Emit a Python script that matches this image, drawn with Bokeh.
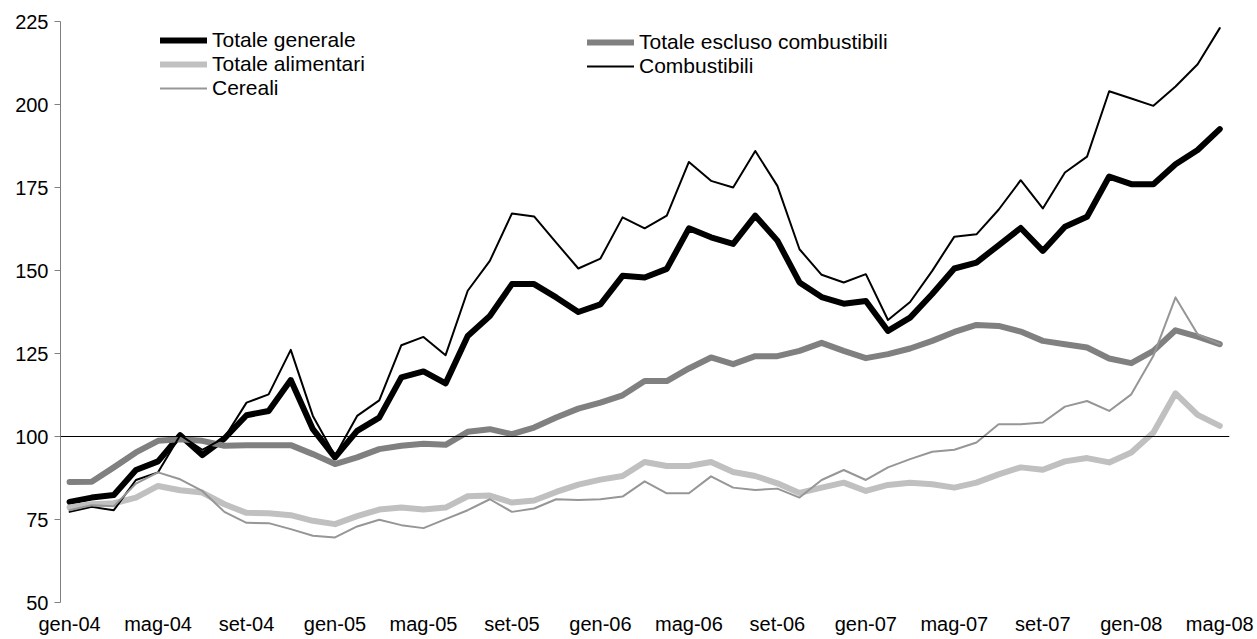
from bokeh.plotting import figure
from bokeh.models import Range1d, FixedTicker, Span, Legend, LegendItem
from bokeh.embed import file_html
from bokeh.resources import INLINE

mesi = ["gen", "feb", "mar", "apr", "mag", "giu", "lug", "ago", "set", "ott", "nov", "dic"]
months = [f"{m}-{y:02d}" for y in range(4, 9) for m in mesi][:53]
x = list(range(len(months)))
y_ticks = [50, 75, 100, 125, 150, 175, 200, 225]

totale_generale = [80.3, 81.6, 82.4, 89.9, 92.5, 100.4, 94.4, 99.4, 106.4, 107.7,
                   117.0, 102.2, 93.7, 101.7, 105.7, 117.8, 119.6, 116.0, 130.3, 136.3,
                   145.9, 145.9, 141.9, 137.5, 139.8, 148.4, 147.9, 150.5, 162.7, 160.0,
                   158.0, 166.5, 159.0, 146.4, 142.0, 140.0, 140.8, 131.8, 135.8, 142.9,
                   150.6, 152.4, 157.6, 162.8, 155.9, 163.2, 166.2, 178.3, 176.0, 176.0,
                   182.0, 186.3, 192.6]
totale_escluso = [86.3, 86.4, 90.7, 95.2, 98.7, 99.2, 98.7, 97.2, 97.4, 97.4,
                  97.4, 94.7, 91.7, 93.7, 96.2, 97.2, 97.8, 97.5, 101.4, 102.2,
                  100.7, 102.7, 105.7, 108.4, 110.2, 112.4, 116.7, 116.7, 120.5, 123.8,
                  121.8, 124.2, 124.2, 125.8, 128.2, 125.8, 123.6, 124.8, 126.5, 128.8,
                  131.5, 133.6, 133.3, 131.6, 128.8, 127.8, 126.8, 123.5, 122.1, 125.8,
                  132.0, 130.1, 127.8]
totale_alimentari = [78.6, 79.6, 79.9, 81.6, 85.1, 83.8, 83.1, 79.6, 77.0, 76.9,
                     76.3, 74.6, 73.6, 76.0, 78.0, 78.6, 78.0, 78.6, 82.0, 82.2,
                     80.1, 80.7, 83.3, 85.5, 87.0, 88.1, 92.3, 91.1, 91.1, 92.3,
                     89.3, 88.1, 85.9, 83.0, 84.6, 86.1, 83.6, 85.4, 86.1, 85.6,
                     84.6, 86.1, 88.6, 90.7, 90.0, 92.5, 93.5, 92.2, 95.2, 101.2,
                     113.0, 106.5, 103.2]
combustibili = [77.3, 78.8, 77.8, 86.9, 89.2, 100.4, 96.0, 99.6, 110.2, 112.7,
                126.1, 106.2, 94.2, 106.2, 110.9, 127.5, 130.0, 124.5, 143.9, 152.9,
                167.2, 166.3, 158.4, 150.6, 153.6, 166.0, 162.7, 166.5, 182.7, 177.0,
                175.0, 186.0, 175.5, 156.4, 148.7, 146.4, 148.9, 135.1, 140.5, 149.9,
                160.2, 160.9, 168.3, 177.2, 168.7, 179.5, 184.3, 204.0, 201.8, 199.6,
                205.4, 212.1, 223.0]
cereali = [77.8, 79.3, 79.0, 85.8, 89.2, 87.1, 83.6, 77.3, 74.0, 73.9,
           72.1, 70.1, 69.6, 72.9, 74.9, 73.3, 72.4, 75.1, 77.8, 81.1,
           77.3, 78.3, 81.1, 80.9, 81.1, 81.9, 86.5, 82.9, 82.9, 88.0,
           84.6, 83.9, 84.3, 81.6, 86.9, 89.9, 86.9, 90.7, 93.2, 95.4,
           96.0, 98.2, 103.7, 103.7, 104.2, 109.0, 110.7, 107.7, 112.7, 124.3,
           141.9, 130.8, 127.8]

FONT = "Liberation Sans"

p = figure(width=1254, height=638, output_backend="svg", toolbar_location=None,
           x_range=Range1d(-0.41, 52.44), y_range=Range1d(50, 225),
           min_border_left=60, min_border_right=25, min_border_top=21, min_border_bottom=36)
p.outline_line_color = None
p.xgrid.grid_line_color = None
p.ygrid.grid_line_color = None
p.background_fill_color = "white"
p.border_fill_color = "white"

# y axis
p.yaxis.ticker = FixedTicker(ticks=y_ticks)
p.yaxis.axis_line_color = "#808080"
p.yaxis.major_tick_line_color = "#808080"
p.yaxis.major_tick_in = 0
p.yaxis.major_tick_out = 6
p.yaxis.minor_tick_line_color = None
p.yaxis.major_label_text_font = FONT
p.yaxis.major_label_text_font_size = "20px"
p.yaxis.major_label_text_color = "black"
p.yaxis.major_label_standoff = 6

# x axis
xt = list(range(0, len(months), 4))
p.xaxis.ticker = FixedTicker(ticks=xt)
p.xaxis.major_label_overrides = {i: months[i] for i in xt}
p.xaxis.axis_line_color = None
p.xaxis.major_tick_line_color = None
p.xaxis.minor_tick_line_color = None
p.xaxis.major_tick_out = 0
p.xaxis.major_tick_in = 0
p.xaxis.major_label_text_font = FONT
p.xaxis.major_label_text_font_size = "20px"
p.xaxis.major_label_text_color = "black"
p.xaxis.major_label_standoff = 10

p.add_layout(Span(location=100, dimension="width", line_color="black", line_width=1))

common = dict(line_cap="round", line_join="round")
r_gen = p.line(x, totale_generale, line_color="black", line_width=6, **common)
r_esc = p.line(x, totale_escluso, line_color="#808080", line_width=6, **common)
r_ali = p.line(x, totale_alimentari, line_color="#c0c0c0", line_width=6, **common)
r_com = p.line(x, combustibili, line_color="black", line_width=2, **common)
r_cer = p.line(x, cereali, line_color="#969696", line_width=2, **common)

def make_legend(items, loc):
    lg = Legend(items=items, location=loc, orientation="vertical",
                padding=0, margin=0, spacing=-1, border_line_color=None,
                background_fill_alpha=0, glyph_width=47, glyph_height=22,
                label_height=22, label_standoff=5,
                label_text_font=FONT, label_text_font_size="21px",
                label_text_color="black")
    return lg

leg1 = make_legend([LegendItem(label="Totale generale", renderers=[r_gen]),
                    LegendItem(label="Totale alimentari", renderers=[r_ali]),
                    LegendItem(label="Cereali", renderers=[r_cer])], (100, 502))
leg2 = make_legend([LegendItem(label="Totale escluso combustibili", renderers=[r_esc]),
                    LegendItem(label="Combustibili", renderers=[r_com])], (527, 524))
p.add_layout(leg1, "center")
p.add_layout(leg2, "center")

open("out.html", "w").write(file_html(p, INLINE))
